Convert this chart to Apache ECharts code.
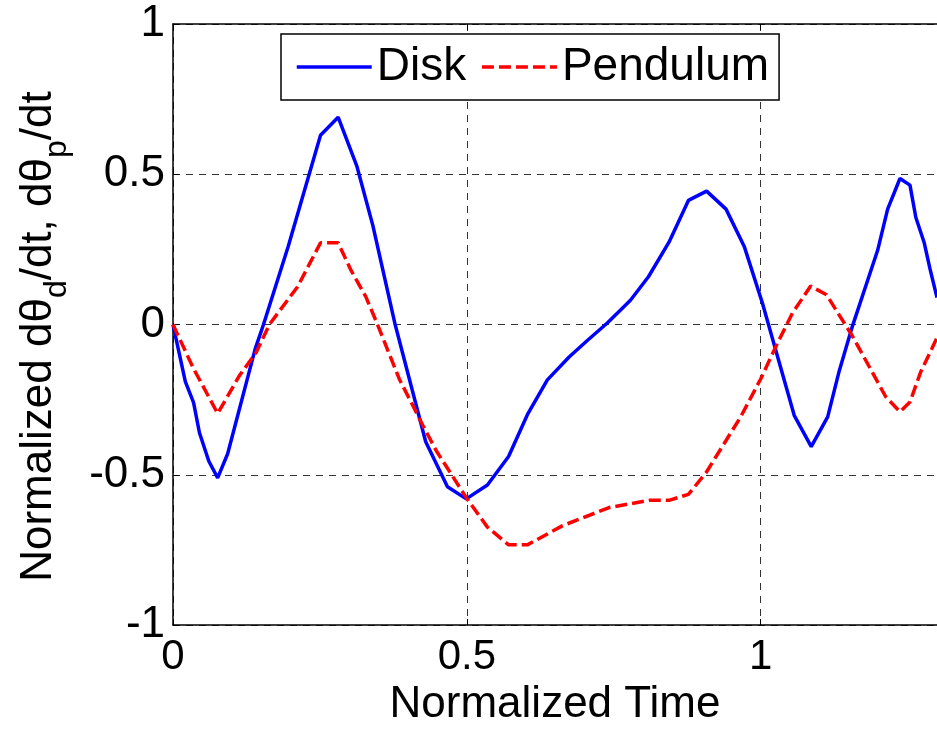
<!DOCTYPE html>
<html>
<head>
<meta charset="utf-8">
<script src="https://cdn.jsdelivr.net/npm/echarts@6/dist/echarts.min.js"></script>
<style>
  html, body { margin: 0; padding: 0; background: #fff; }
  #chart { width: 937px; height: 732px; }
</style>
</head>
<body>
<div id="chart"></div>
<script>
// normalized time / normalized angular velocity
const diskT = [0, 0.021, 0.035, 0.045, 0.061, 0.076, 0.093, 0.14, 0.154, 0.196, 0.251, 0.281, 0.313, 0.34, 0.378,
  0.43, 0.467, 0.499, 0.535, 0.571, 0.603, 0.637, 0.674, 0.705, 0.739, 0.778, 0.809, 0.844, 0.877, 0.908,
  0.941, 0.972, 1.003, 1.057, 1.086, 1.114, 1.133, 1.156, 1.199, 1.216, 1.237, 1.254, 1.264, 1.278, 1.288, 1.30];
const diskV = [0, -0.19, -0.26, -0.36, -0.455, -0.51, -0.43, -0.08, 0, 0.26, 0.63, 0.69, 0.526, 0.33, 0,
  -0.39, -0.54, -0.58, -0.534, -0.439, -0.30, -0.184, -0.108, -0.053, 0.005, 0.08, 0.159, 0.274, 0.413, 0.444,
  0.384, 0.26, 0.071, -0.302, -0.406, -0.307, -0.159, -0.006, 0.247, 0.384, 0.486, 0.464, 0.356, 0.274, 0.186, 0.09];

const pendT = [0, 0.034, 0.076, 0.113, 0.1415, 0.164, 0.212, 0.251, 0.281, 0.303, 0.328, 0.348, 0.385, 0.425, 0.448,
  0.499, 0.535, 0.571, 0.603, 0.663, 0.742, 0.81, 0.844, 0.877, 0.907, 0.966, 1.0, 1.029, 1.054, 1.085,
  1.112, 1.156, 1.213, 1.237, 1.254, 1.272, 1.30];
const pendV = [0, -0.143, -0.296, -0.17, -0.093, 0, 0.126, 0.272, 0.272, 0.18, 0.093, 0, -0.181, -0.335, -0.42,
  -0.576, -0.674, -0.733, -0.733, -0.669, -0.609, -0.585, -0.585, -0.565, -0.493, -0.307, -0.181, -0.06, 0.038, 0.128,
  0.099, -0.038, -0.241, -0.29, -0.258, -0.159, -0.044];

const yTicks = [-1, -0.5, 0, 0.5, 1];

const zip = (xs, ys) => xs.map((x, i) => [x, ys[i]]);
const FONT = '"Liberation Sans", Arial, sans-serif';

const chart = echarts.init(document.getElementById('chart'));
chart.setOption({
  animation: false,
  backgroundColor: '#fff',
  textStyle: { fontFamily: FONT, color: '#000' },
  grid: { left: 173, top: 24, right: 0, bottom: 100, containLabel: false },
  legend: {
    left: 281, top: 34,
    padding: [10, 10, 10, 14],
    itemGap: 14,
    itemWidth: 75, itemHeight: 2,   // tiny height so the legend marker dot disappears
    lineStyle: { width: 3.5 },
    backgroundColor: '#fff',
    borderColor: '#000', borderWidth: 1.5,
    textStyle: { fontFamily: FONT, fontSize: 46, color: '#000' },
    data: ['Disk', 'Pendulum']
  },
  xAxis: [{
    type: 'value', min: 0, max: 1.3, interval: 0.5,
    name: 'Normalized Time', nameLocation: 'middle', nameGap: 53,
    nameTextStyle: { fontFamily: FONT, fontSize: 44, color: '#000' },
    axisLine: { show: true, onZero: false, lineStyle: { color: '#000', width: 1.5 } },
    axisTick: { show: true, inside: true, length: 6, lineStyle: { color: '#000' } },
    axisLabel: { fontFamily: FONT, fontSize: 42, color: '#000', margin: 11, showMaxLabel: false },
    splitLine: { show: true, lineStyle: { color: '#333', type: [7, 6], width: 1 } }
  }, {
    type: 'value', min: 0, max: 1.3, interval: 0.5, position: 'top',
    axisLine: { show: true, onZero: false, lineStyle: { color: '#000', width: 1.5 } },
    axisTick: { show: true, inside: true, length: 6, lineStyle: { color: '#000' } },
    axisLabel: { show: false },
    splitLine: { show: false }
  }],
  yAxis: {
    type: 'value', min: -1, max: 1, interval: 0.5,
    name: '{a|Normalized d\u03b8}{s|d}{a|/dt, d\u03b8}{s|p}{a|/dt}',
    nameLocation: 'middle', nameRotate: 90, nameGap: 100,
    nameTextStyle: {
      fontFamily: FONT, color: '#000',
      padding: [0, 24, 0, 0],
      rich: {
        a: { fontFamily: FONT, fontSize: 44, color: '#000', lineHeight: 56, verticalAlign: 'top' },
        s: { fontFamily: FONT, fontSize: 32, color: '#000', lineHeight: 32, verticalAlign: 'bottom' }
      }
    },
    axisLine: { show: true, onZero: false, lineStyle: { color: '#000', width: 1.5 } },
    axisTick: { show: true, inside: true, length: 6, lineStyle: { color: '#000' } },
    axisLabel: {
      fontFamily: FONT, fontSize: 44, color: '#000', margin: 8,
      formatter: v => yTicks.includes(v) ? String(v) : ''
    },
    splitLine: { show: true, lineStyle: { color: '#333', type: [7, 6], width: 1 } }
  },
  series: [{
    name: 'Disk', type: 'line', data: zip(diskT, diskV),
    showSymbol: false, symbol: 'none', clip: true,
    lineStyle: { color: '#0000ff', width: 3.5 }, itemStyle: { color: '#0000ff' }
  }, {
    name: 'Pendulum', type: 'line', data: zip(pendT, pendV),
    showSymbol: false, symbol: 'none', clip: true,
    lineStyle: { color: '#ff0000', width: 3.5, type: [12, 5] }, itemStyle: { color: '#ff0000' }
  }]
});
</script>
</body>
</html>
